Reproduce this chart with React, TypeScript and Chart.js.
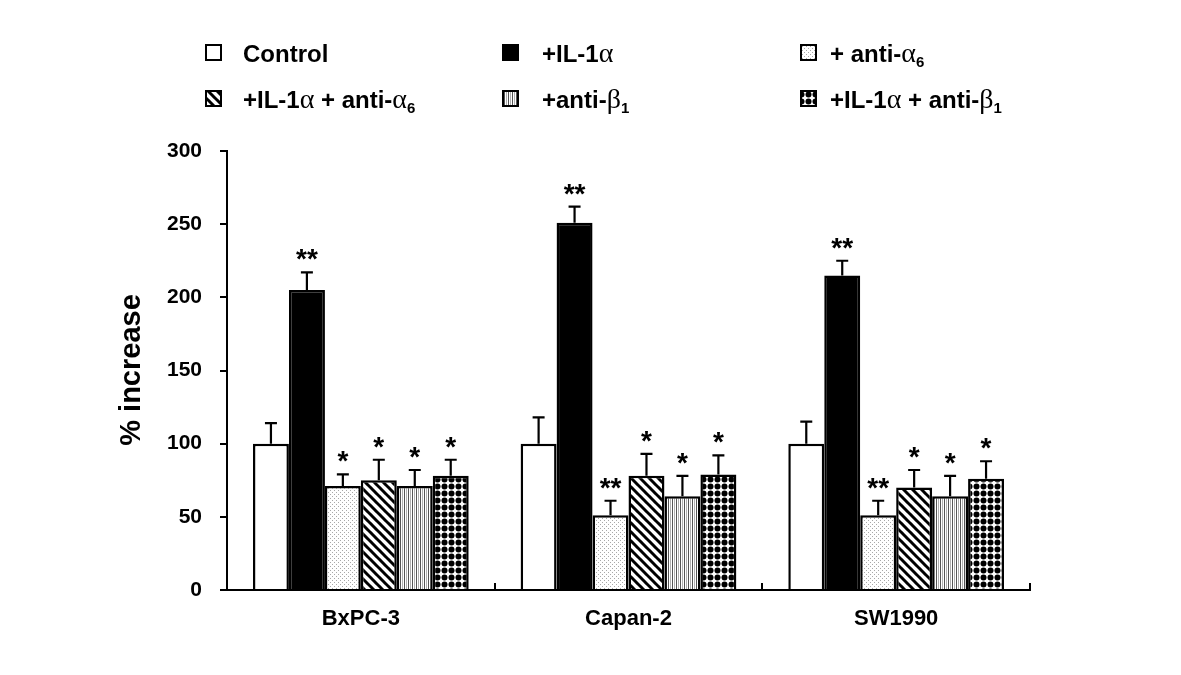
import React, { useEffect, useRef } from 'react';
import { Chart, registerables } from 'chart.js';

Chart.register(...registerables);

// ---------- data ----------
const categories = ['BxPC-3', 'Capan-2', 'SW1990'];
const seriesLabels = [
  'Control',
  '+IL-1α',
  '+ anti-α_6',
  '+IL-1α + anti-α_6',
  '+anti-β_1',
  '+IL-1α + anti-β_1',
];
const controlValues = [100, 100, 100];
const il1aValues = [205, 251, 215];
const antiA6Values = [71, 51, 51];
const il1aAntiA6Values = [75, 78, 70];
const antiB1Values = [71, 64, 64];
const il1aAntiB1Values = [78, 79, 76];

const controlErr = [14, 18, 15];
const il1aErr = [12, 11, 10];
const antiA6Err = [8, 10, 10];
const il1aAntiA6Err = [14, 15, 12];
const antiB1Err = [11, 14, 14];
const il1aAntiB1Err = [11, 13, 12];

const controlSig = ['', '', ''];
const il1aSig = ['**', '**', '**'];
const antiA6Sig = ['*', '**', '**'];
const il1aAntiA6Sig = ['*', '*', '*'];
const antiB1Sig = ['*', '*', '*'];
const il1aAntiB1Sig = ['*', '*', '*'];

const yMin = 0;
const yMax = 300;
const yStep = 50;
const yTitle = '% increase';

const FONT = '"Liberation Sans", Arial, sans-serif';
const SERIF = '"Liberation Serif", "Times New Roman", serif';

// ---------- patterns ----------
function makeTile(w: number, h: number, draw: (c: CanvasRenderingContext2D) => void) {
  const t = document.createElement('canvas');
  t.width = w;
  t.height = h;
  const c = t.getContext('2d')!;
  c.fillStyle = '#fff';
  c.fillRect(0, 0, w, h);
  draw(c);
  return t;
}

function makePatterns(ctx: CanvasRenderingContext2D) {
  const stipple = makeTile(4, 4, (c) => {
    c.fillStyle = '#a8a8a8';
    c.fillRect(0, 0, 1, 1);
    c.fillRect(2, 2, 1, 1);
  });
  const diag = makeTile(9, 9, (c) => {
    c.strokeStyle = '#000';
    c.lineWidth = 3;
    for (const o of [-9, 0, 9]) {
      c.beginPath();
      c.moveTo(o - 1, -1);
      c.lineTo(o + 10, 10);
      c.stroke();
    }
  });
  const vert = makeTile(4, 4, (c) => {
    c.fillStyle = '#555';
    c.fillRect(0, 0, 1, 4);
    c.fillStyle = '#b0b0b0';
    c.fillRect(2, 0, 1, 4);
  });
  const dots = makeTile(7, 7, (c) => {
    c.fillStyle = '#000';
    c.beginPath();
    c.arc(3.5, 3.5, 3.0, 0, Math.PI * 2);
    c.fill();
  });
  return [
    '#ffffff',
    '#000000',
    ctx.createPattern(stipple, 'repeat')!,
    ctx.createPattern(diag, 'repeat')!,
    ctx.createPattern(vert, 'repeat')!,
    ctx.createPattern(dots, 'repeat')!,
  ];
}

// ---------- text with greek / subscripts ----------
function drawRich(ctx: CanvasRenderingContext2D, text: string, x: number, y: number, size: number) {
  let cx = x;
  for (let i = 0; i < text.length; i++) {
    const ch = text[i];
    if (ch === '_') {
      const s = text[i + 1];
      i++;
      ctx.font = `bold ${Math.round(size * 0.62)}px ${FONT}`;
      ctx.fillText(s, cx, y + size * 0.2);
      cx += ctx.measureText(s).width;
      continue;
    }
    if (ch === 'α' || ch === 'β') {
      ctx.font = `${Math.round(size * 1.15)}px ${SERIF}`;
    } else {
      ctx.font = `bold ${size}px ${FONT}`;
    }
    ctx.fillText(ch, cx, y);
    cx += ctx.measureText(ch).width;
  }
}

const App: React.FC = () => {
  const ref = useRef<HTMLCanvasElement | null>(null);

  useEffect(() => {
    document.body.style.margin = '0';
    const canvas = ref.current!;
    const ctx = canvas.getContext('2d')!;
    const fills = makePatterns(ctx);

    const values = [controlValues, il1aValues, antiA6Values, il1aAntiA6Values, antiB1Values, il1aAntiB1Values];
    const errs = [controlErr, il1aErr, antiA6Err, il1aAntiA6Err, antiB1Err, il1aAntiB1Err];
    const sigs = [controlSig, il1aSig, antiA6Sig, il1aAntiA6Sig, antiB1Sig, il1aAntiB1Sig];

    const legendPos = [
      { bx: 206, tx: 243, y: 62 },
      { bx: 503, tx: 542, y: 62 },
      { bx: 801, tx: 830, y: 62 },
      { bx: 206, tx: 243, y: 108 },
      { bx: 503, tx: 542, y: 108 },
      { bx: 801, tx: 830, y: 108 },
    ];
    const BOX = 15;

    const overlay = {
      id: 'overlay',
      afterDatasetsDraw(chart: any) {
        const c = chart.ctx as CanvasRenderingContext2D;
        const yScale = chart.scales.y;
        const xScale = chart.scales.x;
        c.save();
        // error bars + significance
        chart.data.datasets.forEach((ds: any, di: number) => {
          const meta = chart.getDatasetMeta(di);
          meta.data.forEach((bar: any, i: number) => {
            const v = values[di][i];
            const top = yScale.getPixelForValue(v + errs[di][i]);
            const by = yScale.getPixelForValue(v);
            c.strokeStyle = '#000';
            c.lineWidth = 2.2;
            c.beginPath();
            c.moveTo(bar.x, by);
            c.lineTo(bar.x, top);
            c.moveTo(bar.x - 6, top);
            c.lineTo(bar.x + 6, top);
            c.stroke();
            const s = sigs[di][i];
            if (s) {
              c.fillStyle = '#000';
              c.font = `bold 28px ${FONT}`;
              c.textAlign = 'center';
              c.textBaseline = 'alphabetic';
              c.fillText(s, bar.x, top - 4);
            }
          });
        });
        // x-axis inward ticks at category boundaries
        const n = categories.length;
        const w = (xScale.right - xScale.left) / n;
        c.strokeStyle = '#000';
        c.lineWidth = 2;
        c.beginPath();
        for (let k = 1; k <= n; k++) {
          const x = Math.round(xScale.left + k * w);
          c.moveTo(x, yScale.bottom);
          c.lineTo(x, yScale.bottom - 7);
        }
        c.stroke();
        // y title
        c.save();
        c.translate(132, 370);
        c.rotate(-Math.PI / 2);
        c.fillStyle = '#000';
        c.font = `bold 29px ${FONT}`;
        c.textAlign = 'center';
        c.textBaseline = 'middle';
        c.fillText(yTitle, 0, 0);
        c.restore();
        // legend
        seriesLabels.forEach((lab, k) => {
          const p = legendPos[k];
          const by = p.y - 17;
          c.fillStyle = fills[k] as any;
          c.fillRect(p.bx, by, BOX, BOX);
          c.strokeStyle = '#000';
          c.lineWidth = 2;
          c.strokeRect(p.bx, by, BOX, BOX);
          c.fillStyle = '#000';
          c.textAlign = 'left';
          c.textBaseline = 'alphabetic';
          drawRich(c, lab, p.tx, p.y, 24);
        });
        c.restore();
      },
    };

    const chart = new Chart(canvas, {
      type: 'bar',
      data: {
        labels: categories,
        datasets: seriesLabels.map((lab, k) => ({
          label: lab.replace('_', ''),
          data: values[k],
          backgroundColor: fills[k] as any,
          borderColor: '#000',
          borderWidth: 2.5,
          barPercentage: 1,
          categoryPercentage: 0.806,
        })),
      },
      options: {
        responsive: false,
        animation: false,
        layout: { padding: { left: 0, right: 151, top: 151, bottom: 0 } },
        plugins: { legend: { display: false }, tooltip: { enabled: false } },
        scales: {
          x: {
            grid: { display: false },
            border: { display: true, color: '#000', width: 2 },
            ticks: { color: '#000', font: { family: FONT, size: 22, weight: 'bold' }, padding: 8 },
            afterFit: (s: any) => {
              s.height = 85;
            },
          },
          y: {
            min: yMin,
            max: yMax,
            ticks: { stepSize: yStep, color: '#000', font: { family: FONT, size: 21, weight: 'bold' }, padding: 18 },
            grid: { drawOnChartArea: false, drawTicks: true, tickLength: 7, color: '#000', lineWidth: 2 },
            border: { display: true, color: '#000', width: 2 },
            afterFit: (s: any) => {
              s.width = 227;
            },
          },
        },
      },
      plugins: [overlay],
    });
    return () => chart.destroy();
  }, []);

  return (
    <div style={{ width: 1181, height: 675, background: '#fff' }}>
      <canvas ref={ref} width={1181} height={675} style={{ display: 'block' }} />
    </div>
  );
};

export default App;
